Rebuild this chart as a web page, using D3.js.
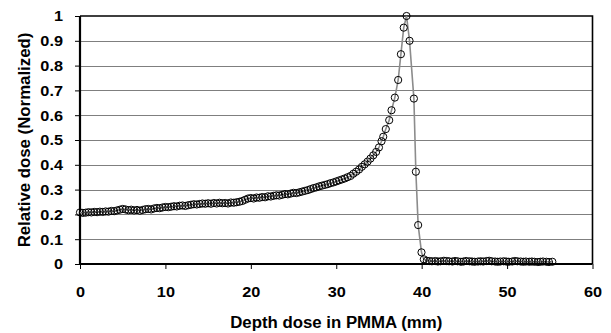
<!DOCTYPE html>
<html>
<head>
<meta charset="utf-8">
<script src="https://cdn.jsdelivr.net/npm/d3@7"></script>
<style>
  body { margin: 0; background: #fff; }
  svg text { font-family: Arial, "Liberation Sans", sans-serif; font-weight: bold; fill: #000; }
</style>
</head>
<body>
<div id="chart"></div>
<script>
/* DATA */
// build-up region, roughly every 1/3 mm
const buildupDepth = [
  0, 0.33, 0.67, 1, 1.33, 1.67, 2, 2.33, 2.67, 3, 3.33, 3.67, 4, 4.33, 4.67,
  5, 5.33, 5.67, 6, 6.33, 6.67, 7, 7.33, 7.67, 8, 8.33, 8.67, 9, 9.33, 9.67,
  10, 10.33, 10.67, 11, 11.33, 11.67, 12, 12.33, 12.67, 13, 13.33, 13.67, 14, 14.33, 14.67,
  15, 15.33, 15.67, 16, 16.33, 16.67, 17, 17.33, 17.67, 18, 18.33, 18.67, 19, 19.33, 19.67,
  20, 20.33, 20.67, 21, 21.33, 21.67, 22, 22.33, 22.67, 23, 23.33, 23.67, 24, 24.33, 24.67,
  25, 25.33, 25.67, 26, 26.33, 26.67, 27, 27.33, 27.67, 28, 28.33, 28.67, 29, 29.33, 29.67,
  30, 30.33, 30.67, 31, 31.33, 31.67, 32, 32.33, 32.67, 33, 33.33, 33.67, 34, 34.33, 34.67
];
const buildupDose = [
  0.208, 0.206, 0.207, 0.209, 0.208, 0.210, 0.209, 0.211, 0.210, 0.212, 0.211, 0.214, 0.213, 0.216, 0.219,
  0.222, 0.220, 0.217, 0.219, 0.216, 0.218, 0.215, 0.218, 0.221, 0.222, 0.220, 0.224, 0.226, 0.225, 0.228,
  0.230, 0.229, 0.231, 0.233, 0.232, 0.235, 0.236, 0.234, 0.237, 0.239, 0.241, 0.240, 0.242, 0.244, 0.243,
  0.245, 0.243, 0.246, 0.244, 0.247, 0.245, 0.246, 0.244, 0.248, 0.247, 0.249, 0.251, 0.254, 0.259, 0.264,
  0.266, 0.264, 0.268, 0.267, 0.270, 0.269, 0.273, 0.272, 0.275, 0.277, 0.276, 0.279, 0.282, 0.281, 0.284,
  0.287, 0.286, 0.289, 0.292, 0.295, 0.298, 0.302, 0.306, 0.309, 0.313, 0.316, 0.319, 0.322, 0.326, 0.329,
  0.333, 0.337, 0.341, 0.345, 0.350, 0.355, 0.364, 0.372, 0.381, 0.392, 0.402, 0.413, 0.425, 0.438, 0.452
];
// Bragg peak and distal fall-off
const peakDepth = [35.0, 35.3, 35.5, 35.8, 36.2, 36.47, 36.86, 37.25, 37.57, 37.9, 38.23, 38.58, 39.09, 39.32, 39.59, 39.98, 40.25];
const peakDose  = [0.470, 0.495, 0.513, 0.544, 0.580, 0.620, 0.671, 0.742, 0.846, 0.953, 1.0, 0.900, 0.667, 0.372, 0.157, 0.047, 0.019];
// tail beyond the range
const tailDepth = [
  40.6, 40.9, 41.2, 41.6, 41.9, 42.2, 42.6, 42.9, 43.2, 43.6, 43.9, 44.2, 44.6, 44.9, 45.2,
  45.6, 45.9, 46.2, 46.6, 46.9, 47.2, 47.6, 47.9, 48.2, 48.6, 48.9, 49.2, 49.6, 49.9, 50.2,
  50.6, 50.9, 51.2, 51.6, 51.9, 52.2, 52.6, 52.9, 53.2, 53.6, 53.9, 54.2, 54.6, 54.9, 55.3
];
const tailDose = [
  0.013, 0.012, 0.011, 0.012, 0.010, 0.011, 0.013, 0.012, 0.011, 0.010, 0.012, 0.011, 0.009, 0.010, 0.012,
  0.011, 0.010, 0.009, 0.010, 0.011, 0.010, 0.012, 0.013, 0.011, 0.010, 0.009, 0.010, 0.011, 0.010, 0.009,
  0.010, 0.012, 0.011, 0.010, 0.009, 0.010, 0.009, 0.010, 0.009, 0.008, 0.009, 0.010, 0.009, 0.008, 0.009
];

const xTicks = [0, 10, 20, 30, 40, 50, 60];
const yTicks = [0, 0.1, 0.2, 0.3, 0.4, 0.5, 0.6, 0.7, 0.8, 0.9, 1];
const xTitle = "Depth dose in PMMA (mm)";
const yTitle = "Relative dose (Normalized)";

/* CONSTANTS */
const width = 611,
  height = 333,
  margin = { top: 16, bottom: 69, left: 80, right: 18.5 },
  tickFont = 15.5,
  titleFont = 16,
  stretchK = 1.05;

const depth = buildupDepth.concat(peakDepth, tailDepth);
const dose = buildupDose.concat(peakDose, tailDose);
const data = depth.map((d, i) => ({ depth: d, dose: dose[i] }));

// the original text looks a bit wide, stretch it slightly
function stretch(sel, k) {
  sel.each(function () {
    const w = this.getComputedTextLength();
    d3.select(this).attr("textLength", w * k).attr("lengthAdjust", "spacingAndGlyphs");
  });
}

/* SCALES */
const xScale = d3.scaleLinear()
  .domain([0, 60])
  .range([margin.left, width - margin.right]);

const yScale = d3.scaleLinear()
  .domain([0, 1])
  .range([height - margin.bottom, margin.top]);

const svg = d3.select("#chart")
  .append("svg")
  .attr("width", width)
  .attr("height", height);

// gridlines
svg.append("g")
  .selectAll("line")
  .data(yTicks.filter(d => d > 0 && d < 1))
  .join("line")
  .attr("x1", xScale(0))
  .attr("x2", xScale(60))
  .attr("y1", d => Math.round(yScale(d)) + 0.5)
  .attr("y2", d => Math.round(yScale(d)) + 0.5)
  .attr("stroke", "#7f7f7f")
  .attr("stroke-width", 1);

// top and right border of the plot area
svg.append("path")
  .attr("d", `M${xScale(0)},${yScale(1)}H${xScale(60)}V${yScale(0)}`)
  .attr("fill", "none")
  .attr("stroke", "#000")
  .attr("stroke-width", 1.6);

/* AXES */
const xAxis = d3.axisBottom(xScale)
  .tickValues(xTicks)
  .tickSize(5)
  .tickPadding(17)
  .tickFormat(d3.format("d"));

const yAxis = d3.axisLeft(yScale)
  .tickValues(yTicks)
  .tickSize(5)
  .tickPadding(12)
  .tickFormat(d => d === 0 || d === 1 ? String(d) : d3.format(".1f")(d));

const xAxisGroup = svg.append("g")
  .attr("transform", `translate(0,${height - margin.bottom})`)
  .call(xAxis);

const yAxisGroup = svg.append("g")
  .attr("transform", `translate(${margin.left},0)`)
  .call(yAxis);

[xAxisGroup, yAxisGroup].forEach(g => {
  g.select(".domain").remove();
  g.selectAll(".tick line").attr("stroke", "#000").attr("stroke-width", 1);
  g.selectAll(".tick text")
    .attr("font-size", tickFont)
    .attr("font-family", null)
    .call(stretch, stretchK);
});

// thick axis lines
svg.append("path")
  .attr("d", `M${xScale(0)},${yScale(1)}V${yScale(0)}H${xScale(60)}`)
  .attr("fill", "none")
  .attr("stroke", "#000")
  .attr("stroke-width", 2.2);

/* LINE + MARKERS */
const lineFunction = d3.line()
  .x(d => xScale(d.depth))
  .y(d => yScale(d.dose));

svg.append("path")
  .datum(data)
  .attr("d", lineFunction)
  .attr("fill", "none")
  .attr("stroke", "#8c8c8c")
  .attr("stroke-width", 1.6);

svg.append("g")
  .selectAll("circle")
  .data(data)
  .join("circle")
  .attr("cx", d => xScale(d.depth))
  .attr("cy", d => yScale(d.dose))
  .attr("r", 3.6)
  .attr("fill", "none")
  .attr("stroke", "#000")
  .attr("stroke-width", 1);

/* TITLES */
svg.append("text")
  .attr("x", (xScale(0) + xScale(60)) / 2)
  .attr("y", 328)
  .attr("text-anchor", "middle")
  .attr("font-size", titleFont)
  .text(xTitle)
  .call(stretch, stretchK);

svg.append("text")
  .attr("transform", `translate(30,${(yScale(0) + yScale(1)) / 2}) rotate(-90)`)
  .attr("text-anchor", "middle")
  .attr("font-size", titleFont)
  .text(yTitle)
  .call(stretch, stretchK);
</script>
</body>
</html>
